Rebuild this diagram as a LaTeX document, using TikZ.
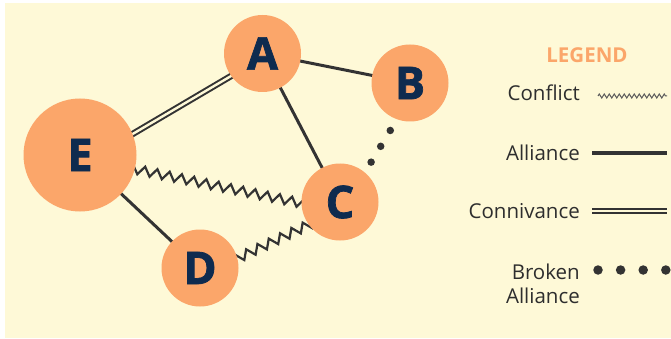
\documentclass[tikz,border=0pt]{standalone}
\usepackage{fontspec}
\setmainfont{Open Sans}
\newfontfamily\heavyfont{Open Sans}[BoldFeatures={FakeBold=1.6}]
\usetikzlibrary{decorations.pathmorphing}
\pgfdeclarelayer{back}
\pgfdeclarelayer{bg}
\pgfsetlayers{back,bg,main}
\definecolor{cream}{HTML}{FEF9D7}
\definecolor{peach}{HTML}{FBA66A}
\definecolor{navy}{HTML}{0E2B4F}
\definecolor{ink}{HTML}{333333}
\definecolor{legendc}{HTML}{FBA66A}
\tikzset{
  party/.style={circle, fill=peach, inner sep=0pt, text=navy, font=\fontsize{45}{45}\heavyfont\bfseries},
  alliance/.style={draw=ink, line width=3pt},
  connivance/.style={draw=ink, line width=2pt, double=cream, double distance=2.4pt},
  conflict/.style={draw=ink, line width=2.2pt, decorate, decoration={zigzag, segment length=12.5pt, amplitude=4.5pt}},
  conflictlegend/.style={draw=ink!80, line width=1pt, decorate, decoration={zigzag, segment length=5pt, amplitude=2pt}},
  broken/.style={draw=ink, line width=7.5pt, line cap=round, dash pattern=on 0pt off 18.5pt},
  legtext/.style={anchor=east, text=ink!90!black, font=\fontsize{20.5}{21}\selectfont, inner sep=0pt},
}
\begin{document}
\begin{tikzpicture}[x=1pt, y=-1pt]
\useasboundingbox (0,0) rectangle (671,339);
\begin{pgfonlayer}{back}
\fill[cream] (5,3) rectangle (671,338);
\end{pgfonlayer}

\node[party, minimum size=77pt] (A) at (262.5,53.5) {A};
\node[party, minimum size=77pt] (B) at (410,83) {B};
\node[party, minimum size=113pt] (E) at (80,155) {E};
\node[party, minimum size=77pt] (C) at (340,202) {C};
\node[party, minimum size=77pt] (D) at (200,268) {D};

\begin{pgfonlayer}{bg}
\draw[alliance] (A.center) -- (B.center);
\draw[alliance] (A.center) -- (C.center);
\draw[alliance] (E.center) -- (D.center);
\draw[connivance] ([yshift=-10pt]E.center) -- ([yshift=-4pt]A.center);
\draw[conflict] ([yshift=-3pt]E.center) -- ([yshift=-9pt]C.center);
\draw[conflict] ([yshift=-8pt]D.center) -- ([yshift=-8pt]C.center);
\draw[broken] ([xshift=9pt]B.center) -- ([xshift=7pt]C.center);
\end{pgfonlayer}

% legend
\node[text=legendc, font=\fontsize{20.5}{21}\selectfont\bfseries, inner sep=0pt] (leg) at (587,55) {LEGEND};
\node[legtext] (t1) at (580,93) {Conflict};
\node[legtext] (t2) at (580,153) {Alliance};
\node[legtext] (t3) at (580,211) {Connivance};
\node[legtext, align=right] (t4) at (580,284) {Broken\\[3pt]Alliance};
\coordinate (c1a) at (598,96); \coordinate (c1b) at (667,96);
\coordinate (c2a) at (592,153); \coordinate (c2b) at (667,153);
\coordinate (c3a) at (592,211); \coordinate (c3b) at (667,211);
\coordinate (c4a) at (598,270); \coordinate (c4b) at (666,270);
\draw[conflictlegend] (c1a) -- (c1b);
\draw[alliance, line width=3.5pt] (c2a) -- (c2b);
\draw[connivance] (c3a) -- (c3b);
\draw[broken, line width=9.5pt, dash pattern=on 0pt off 22.6pt] (c4a) -- (c4b);
\end{tikzpicture}
\end{document}
